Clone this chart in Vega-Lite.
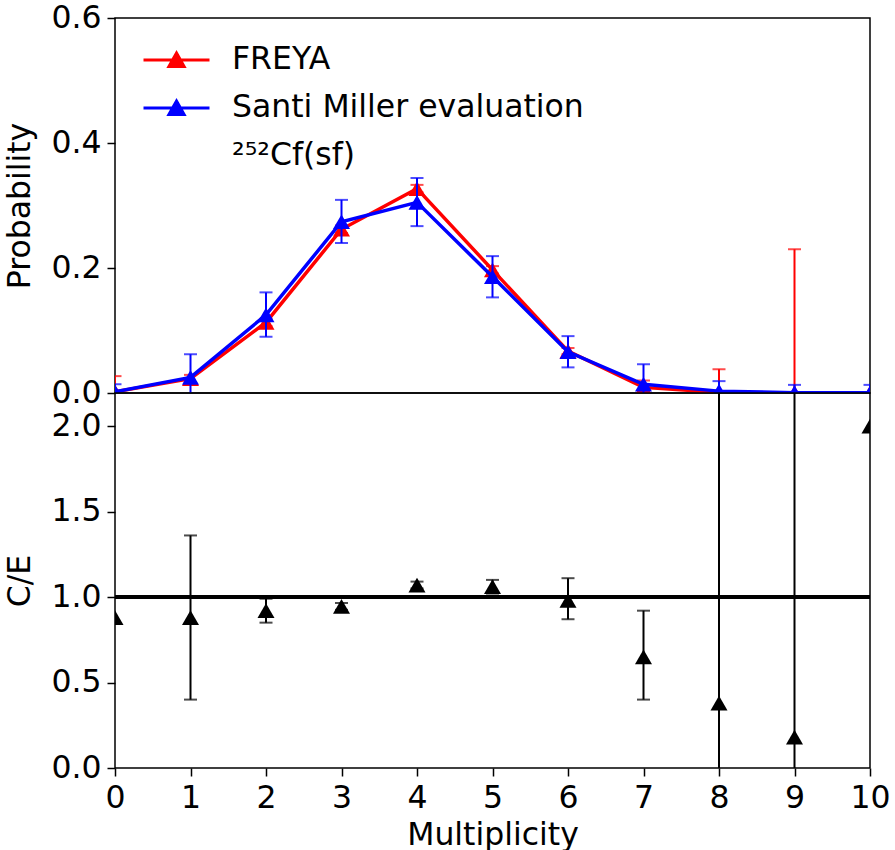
{
  "$schema": "https://vega.github.io/schema/vega-lite/v6.json",
  "autosize": {"type": "pad"},
  "padding": {"left": 4, "top": 1, "right": 0, "bottom": 0},
  "bounds": "flush",
  "config": {
    "font": "DejaVu Sans",
    "view": {"stroke": "black", "strokeWidth": 1.5},
    "axis": {
      "grid": false, "domain": false,
      "labelFont": "DejaVu Sans", "titleFont": "DejaVu Sans",
      "labelFontSize": 31.5, "titleFontSize": 31.5,
      "labelColor": "black", "titleColor": "black",
      "titleFontWeight": "normal",
      "tickColor": "black", "tickSize": 8, "tickWidth": 1.5,
      "labelPadding": 6
    }
  },
  "datasets": {
    "prob": [
      {"model": "FREYA", "n": 0, "p": 0.002, "lo": -0.023, "hi": 0.027},
      {"model": "FREYA", "n": 1, "p": 0.023, "lo": 0.017, "hi": 0.029},
      {"model": "FREYA", "n": 2, "p": 0.113, "lo": 0.107, "hi": 0.119},
      {"model": "FREYA", "n": 3, "p": 0.262, "lo": 0.256, "hi": 0.268},
      {"model": "FREYA", "n": 4, "p": 0.327, "lo": 0.321, "hi": 0.333},
      {"model": "FREYA", "n": 5, "p": 0.197, "lo": 0.191, "hi": 0.203},
      {"model": "FREYA", "n": 6, "p": 0.067, "lo": 0.062, "hi": 0.072},
      {"model": "FREYA", "n": 7, "p": 0.009, "lo": -0.002, "hi": 0.020},
      {"model": "FREYA", "n": 8, "p": 0.001, "lo": -0.036, "hi": 0.038},
      {"model": "FREYA", "n": 9, "p": 0.0001, "lo": -0.23, "hi": 0.23},
      {"model": "FREYA", "n": 10, "p": 0.0, "lo": null, "hi": null},
      {"model": "Santi Miller evaluation", "n": 0, "p": 0.002, "lo": -0.010, "hi": 0.014},
      {"model": "Santi Miller evaluation", "n": 1, "p": 0.025, "lo": -0.011, "hi": 0.062},
      {"model": "Santi Miller evaluation", "n": 2, "p": 0.125, "lo": 0.090, "hi": 0.161},
      {"model": "Santi Miller evaluation", "n": 3, "p": 0.274, "lo": 0.240, "hi": 0.309},
      {"model": "Santi Miller evaluation", "n": 4, "p": 0.305, "lo": 0.267, "hi": 0.344},
      {"model": "Santi Miller evaluation", "n": 5, "p": 0.186, "lo": 0.153, "hi": 0.219},
      {"model": "Santi Miller evaluation", "n": 6, "p": 0.066, "lo": 0.041, "hi": 0.091},
      {"model": "Santi Miller evaluation", "n": 7, "p": 0.014, "lo": -0.018, "hi": 0.046},
      {"model": "Santi Miller evaluation", "n": 8, "p": 0.003, "lo": -0.013, "hi": 0.019},
      {"model": "Santi Miller evaluation", "n": 9, "p": 0.0005, "lo": -0.012, "hi": 0.013},
      {"model": "Santi Miller evaluation", "n": 10, "p": 0.0003, "lo": -0.012, "hi": 0.013}
    ],
    "ratio": [
      {"n": 0, "r": 0.88, "lo": null, "hi": null},
      {"n": 1, "r": 0.88, "lo": 0.40, "hi": 1.36},
      {"n": 2, "r": 0.92, "lo": 0.85, "hi": 0.99},
      {"n": 3, "r": 0.945, "lo": 0.925, "hi": 0.965},
      {"n": 4, "r": 1.07, "lo": 1.05, "hi": 1.09},
      {"n": 5, "r": 1.06, "lo": 1.02, "hi": 1.10},
      {"n": 6, "r": 0.98, "lo": 0.87, "hi": 1.11},
      {"n": 7, "r": 0.65, "lo": 0.40, "hi": 0.92},
      {"n": 8, "r": 0.38, "lo": -1, "hi": 5},
      {"n": 9, "r": 0.18, "lo": -1, "hi": 5},
      {"n": 10, "r": 2.0, "lo": null, "hi": null}
    ]
  },
  "spacing": 0,
  "vconcat": [
    {
      "width": 755, "height": 375,
      "data": {"name": "prob"},
      "encoding": {
        "x": {"field": "n", "type": "quantitative", "scale": {"domain": [0, 10], "nice": false}, "axis": null},
        "color": {
          "field": "model", "type": "nominal",
          "scale": {"domain": ["FREYA", "Santi Miller evaluation", "²⁵²Cf(sf)"], "range": ["#ff0000", "#0000ff", "transparent"]},
          "legend": {
            "title": null, "orient": "none", "legendX": 27, "legendY": 27,
            "padding": 0, "labelFontSize": 31.5, "labelFont": "DejaVu Sans", "labelColor": "black",
            "labelOffset": 21, "labelLimit": 0, "clipHeight": 30, "rowPadding": 16,
            "symbolType": "M-1,0L1,0M0,-0.21L0.23,0.2L-0.23,0.2Z",
            "symbolSize": 4356, "symbolStrokeWidth": 3,
            "encode": {
              "symbols": {
                "update": {
                  "fill": {"signal": "datum.value === 'FREYA' ? '#ff0000' : datum.value === 'Santi Miller evaluation' ? '#0000ff' : 'transparent'"},
                  "stroke": {"signal": "datum.value === 'FREYA' ? '#ff0000' : datum.value === 'Santi Miller evaluation' ? '#0000ff' : 'transparent'"},
                  "opacity": {"value": 1}
                }
              }
            }
          }
        }
      },
      "layer": [
        {
          "transform": [{"filter": "datum.model === 'FREYA'"}],
          "layer": [
            {"mark": {"type": "line", "strokeWidth": 3.5, "clip": true},
             "encoding": {"y": {"field": "p", "type": "quantitative", "title": "Probability",
               "scale": {"domain": [0, 0.6], "nice": false},
               "axis": {"values": [0, 0.2, 0.4, 0.6], "format": ".1f", "titlePadding": 14}}}},
            {"mark": {"type": "rule", "strokeWidth": 2, "clip": true},
             "encoding": {"y": {"field": "lo", "type": "quantitative", "title": "Probability"}, "y2": {"field": "hi"}}},
            {"mark": {"type": "tick", "orient": "horizontal", "size": 13, "thickness": 2, "clip": true},
             "encoding": {"y": {"field": "lo", "type": "quantitative", "title": "Probability"}}},
            {"mark": {"type": "tick", "orient": "horizontal", "size": 13, "thickness": 2, "clip": true},
             "encoding": {"y": {"field": "hi", "type": "quantitative", "title": "Probability"}}},
            {"mark": {"type": "point", "shape": "triangle-up", "filled": true, "size": 290, "opacity": 1, "clip": true},
             "encoding": {"y": {"field": "p", "type": "quantitative", "title": "Probability"}}}
          ]
        },
        {
          "transform": [{"filter": "datum.model === 'Santi Miller evaluation'"}],
          "layer": [
            {"mark": {"type": "line", "strokeWidth": 3.5, "clip": true},
             "encoding": {"y": {"field": "p", "type": "quantitative", "title": "Probability"}}},
            {"mark": {"type": "rule", "strokeWidth": 2, "clip": true},
             "encoding": {"y": {"field": "lo", "type": "quantitative", "title": "Probability"}, "y2": {"field": "hi"}}},
            {"mark": {"type": "tick", "orient": "horizontal", "size": 13, "thickness": 2, "clip": true},
             "encoding": {"y": {"field": "lo", "type": "quantitative", "title": "Probability"}}},
            {"mark": {"type": "tick", "orient": "horizontal", "size": 13, "thickness": 2, "clip": true},
             "encoding": {"y": {"field": "hi", "type": "quantitative", "title": "Probability"}}},
            {"mark": {"type": "point", "shape": "triangle-up", "filled": true, "size": 290, "opacity": 1, "clip": true},
             "encoding": {"y": {"field": "p", "type": "quantitative", "title": "Probability"}}}
          ]
        }
      ]
    },
    {
      "width": 755, "height": 375,
      "data": {"name": "ratio"},
      "layer": [
        {"mark": {"type": "rule", "strokeWidth": 3, "color": "black"},
         "encoding": {"y": {"datum": 1, "type": "quantitative", "title": "C/E",
           "scale": {"domain": [0, 2.193], "nice": false},
           "axis": {"values": [0, 0.5, 1, 1.5, 2], "format": ".1f", "titlePadding": 14}}}},
        {"mark": {"type": "rule", "strokeWidth": 2, "color": "black", "clip": true},
         "encoding": {
           "x": {"field": "n", "type": "quantitative", "title": "Multiplicity", "scale": {"domain": [0, 10], "nice": false},
             "axis": {"values": [0, 1, 2, 3, 4, 5, 6, 7, 8, 9, 10], "format": "d", "labelFlush": false, "titlePadding": 6}},
           "y": {"field": "lo", "type": "quantitative", "title": "C/E"}, "y2": {"field": "hi"}}},
        {"mark": {"type": "tick", "orient": "horizontal", "size": 13, "thickness": 2, "color": "black", "clip": true},
         "encoding": {"x": {"field": "n", "type": "quantitative", "title": "Multiplicity"}, "y": {"field": "lo", "type": "quantitative", "title": "C/E"}}},
        {"mark": {"type": "tick", "orient": "horizontal", "size": 13, "thickness": 2, "color": "black", "clip": true},
         "encoding": {"x": {"field": "n", "type": "quantitative", "title": "Multiplicity"}, "y": {"field": "hi", "type": "quantitative", "title": "C/E"}}},
        {"mark": {"type": "point", "shape": "triangle-up", "filled": true, "size": 290, "opacity": 1, "color": "black", "clip": true},
         "encoding": {"x": {"field": "n", "type": "quantitative", "title": "Multiplicity"}, "y": {"field": "r", "type": "quantitative", "title": "C/E"}}}
      ]
    }
  ]
}
